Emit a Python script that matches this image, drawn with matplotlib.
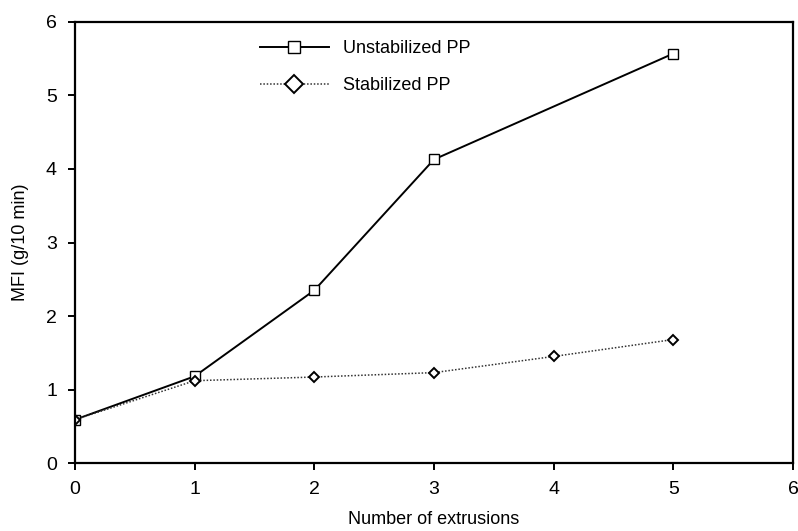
import matplotlib
matplotlib.use("Agg")
import matplotlib.pyplot as plt

plt.rcParams.update(
    {
        "font.family": ["Liberation Sans", "DejaVu Sans"],
        "font.size": 13,
    }
)

# Data
extrusions = [0, 1, 2, 3, 5]
mfi_unstab = [0.59, 1.18, 2.35, 4.13, 5.57]

extrusions_stab = [0, 1, 2, 3, 4, 5]
mfi_stab = [0.59, 1.12, 1.17, 1.23, 1.45, 1.68]

fig = plt.figure(figsize=(7.98, 5.31), dpi=100)
ax = fig.add_axes([0.094, 0.128, 0.8997, 0.8306])

ax.plot(
    extrusions,
    mfi_unstab,
    color="black",
    lw=1.4,
    marker="s",
    markersize=7.5,
    markerfacecolor="white",
    markeredgecolor="black",
    markeredgewidth=1.0,
    label="Unstabilized PP",
)
ax.plot(
    extrusions_stab,
    mfi_stab,
    color="#333333",
    lw=1.1,
    ls=(0, (1, 1.2)),
    marker="D",
    markersize=5.5,
    markerfacecolor="white",
    markeredgecolor="black",
    markeredgewidth=1.4,
    label="Stabilized PP",
)

ax.set_xlim(0, 6)
ax.set_ylim(0, 6)
ax.set_xticks(range(0, 7))
ax.set_yticks(range(0, 7))
ax.set_xlabel("Number of extrusions", fontsize=13, labelpad=9)
ax.set_ylabel("MFI (g/10 min)", fontsize=13, labelpad=12)

for side in ["left", "bottom", "top", "right"]:
    ax.spines[side].set_linewidth(1.6)
ax.tick_params(direction="out", length=5, width=1.4, labelsize=14, pad=8)

leg = ax.legend(
    loc="upper left",
    bbox_to_anchor=(0.235, 0.995),
    frameon=False,
    handlelength=3.8,
    handletextpad=0.8,
    labelspacing=1.1,
    fontsize=13,
)
for h in leg.legend_handles:
    h.set_markersize(9)

fig.savefig("out.png", dpi=100)
